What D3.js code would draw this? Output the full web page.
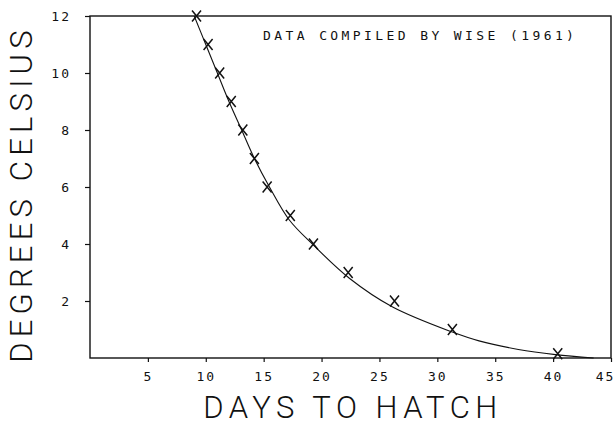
<!DOCTYPE html>
<html>
<head>
<meta charset="utf-8">
<script src="https://cdn.jsdelivr.net/npm/d3@7"></script>
<style>
body { margin: 0; background: #fff; }
text { fill: #111; }
.tick-label { font-family: "DejaVu Sans Mono", monospace; font-size: 13px; letter-spacing: 2px; }
.axis-title { font-family: Roboto, "DejaVu Sans", sans-serif; font-weight: 300; font-size: 31px; }
.note { font-family: "DejaVu Sans Mono", monospace; font-size: 13px; letter-spacing: 3.4px; }
</style>
</head>
<body>
<div id="chart"></div>
<script>
// observed points: temperature (C) vs days to hatch
var days = [9.2, 10.2, 11.2, 12.2, 13.2, 14.2, 15.3, 17.3, 19.3, 22.3, 26.3, 31.3, 40.4];
var temps = [12, 11, 10, 9, 8, 7, 6, 5, 4, 3, 2, 1, 0.15];

// fitted curve
var curveDays = [9.0, 10.0, 11.0, 12.0, 13.1, 14.2, 15.5, 17.2, 19.3, 22.4, 26.1, 31.3, 33.6, 37.0, 40.2, 43.5];
var curveTemps = [12, 11, 10, 9, 8, 7, 6, 4.85, 3.96, 2.8, 1.8, 0.91, 0.6, 0.3, 0.12, 0];

var xTicks = [5, 10, 15, 20, 25, 30, 35, 40, 45];
var yTicks = [2, 4, 6, 8, 10, 12];

var svgWidth = 616;
var svgHeight = 425;

var margin = {
    top: 16,
    right: 5,
    bottom: 67,
    left: 90
};

var width = svgWidth - margin.left - margin.right;
var height = svgHeight - margin.top - margin.bottom;

var svg = d3
    .select("#chart")
    .append("svg")
    .attr("width", svgWidth)
    .attr("height", svgHeight);

var chartGroup = svg.append("g")
    .attr("transform", `translate(${margin.left}, ${margin.top})`);

var xScale = d3.scaleLinear()
    .domain([0, 45])
    .range([0, 521]);

var yScale = d3.scaleLinear()
    .domain([0, 12])
    .range([height, 0]);

// frame
chartGroup.append("rect")
    .attr("x", 0)
    .attr("y", 0)
    .attr("width", xScale(45))
    .attr("height", height)
    .attr("fill", "none")
    .attr("stroke", "#111")
    .attr("stroke-width", 1.4);

// x axis
var bottomAxis = d3.axisBottom(xScale)
    .tickValues(xTicks)
    .tickSize(4)
    .tickPadding(10);

var xAxis = chartGroup.append("g")
    .attr("transform", `translate(0, ${height})`)
    .call(bottomAxis);

// y axis
var leftAxis = d3.axisLeft(yScale)
    .tickValues(yTicks)
    .tickSize(5)
    .tickPadding(14);

var yAxis = chartGroup.append("g")
    .call(leftAxis);

[xAxis, yAxis].forEach(function(ax) {
    ax.select(".domain").remove();
    ax.selectAll("line").attr("stroke", "#111").attr("stroke-width", 1.2);
    ax.selectAll("text")
        .attr("class", "tick-label")
        .attr("fill", "#111")
        .attr("font-family", null)
        .attr("font-size", null);
});

// last label sits against the page edge
xAxis.selectAll(".tick text")
    .filter(d => d === 45)
    .attr("dx", "-6");

// fitted curve
var curvePts = curveDays.map((d, i) => [d, curveTemps[i]]);
var line = d3.line()
    .x(d => xScale(d[0]))
    .y(d => yScale(d[1]))
    .curve(d3.curveCatmullRom);

chartGroup.append("path")
    .datum(curvePts)
    .attr("d", line)
    .attr("fill", "none")
    .attr("stroke", "#111")
    .attr("stroke-width", 1.1);

// X markers
var pts = days.map((d, i) => [d, temps[i]]);
chartGroup.selectAll("path.mark")
    .data(pts)
    .enter()
    .append("path")
    .classed("mark", true)
    .attr("d", function(d) {
        var cx = xScale(d[0]), cy = yScale(d[1]);
        return `M${cx - 4.5},${cy - 5.5}L${cx + 4.5},${cy + 5.5}M${cx + 4.5},${cy - 5.5}L${cx - 4.5},${cy + 5.5}`;
    })
    .attr("stroke", "#111")
    .attr("stroke-width", 1.5)
    .attr("fill", "none");

// note
chartGroup.append("text")
    .attr("class", "note")
    .attr("x", 173)
    .attr("y", 24)
    .text("DATA COMPILED BY WISE (1961)");

// axis titles
svg.append("text")
    .attr("class", "axis-title")
    .attr("x", 353)
    .attr("y", 418)
    .attr("text-anchor", "middle")
    .attr("letter-spacing", "5.5px")
    .text("DAYS TO HATCH");

svg.append("text")
    .attr("class", "axis-title")
    .attr("transform", "translate(32, 194) rotate(-90)")
    .attr("text-anchor", "middle")
    .attr("letter-spacing", "5.2px")
    .text("DEGREES CELSIUS");
</script>
</body>
</html>
